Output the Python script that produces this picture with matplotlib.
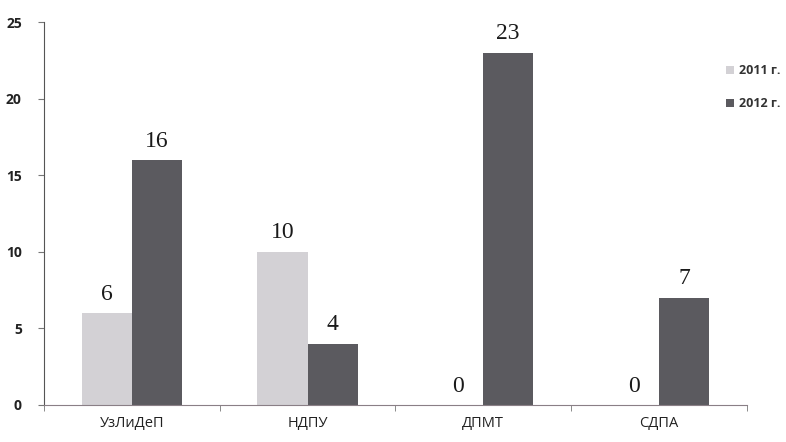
import matplotlib.pyplot as plt
import numpy as np

categories = ['УзЛиДеП', 'НДПУ', 'ДПМТ', 'СДПА']
series_names = ['2011 г.', '2012 г.']
values_2011 = [6, 10, 0, 0]
values_2012 = [16, 4, 23, 7]
colors = ['#d3d1d5', '#5b5a5f']

fig = plt.figure(figsize=(7.86, 4.42), dpi=100)
ax = fig.add_axes([0.056, 0.084, 0.894, 0.866])

x = np.arange(len(categories))
w = 0.285
b1 = ax.bar(x - w / 2, values_2011, w, color=colors[0], label=series_names[0])
b2 = ax.bar(x + w / 2, values_2012, w, color=colors[1], label=series_names[1])

for bars in (b1, b2):
    for r in bars:
        h = r.get_height()
        ax.annotate(f'{h:g}', (r.get_x() + r.get_width() / 2, h),
                    xytext=(0, 6), textcoords='offset points',
                    ha='center', va='bottom', fontsize=17,
                    family='Liberation Serif', color='#1a1a1a')

ax.set_xlim(-0.5, len(categories) - 0.5)
ax.set_ylim(0, 25)
ax.set_yticks([0, 5, 10, 15, 20, 25])
ax.set_xticks(x)
ax.set_xticklabels(categories, fontsize=10.5, family='Open Sans', color='#222222')
ax.set_xticks(np.arange(len(categories) + 1) - 0.5, minor=True)
ax.tick_params(axis='x', which='major', length=0, pad=8)
ax.tick_params(axis='x', which='minor', length=4, color='#777777')
ax.tick_params(axis='y', length=4, color='#777777', labelsize=10, pad=12)
for lab in ax.get_yticklabels():
    lab.set_fontweight('bold')
    lab.set_family('Open Sans')
    lab.set_color('#222222')

ax.spines['top'].set_visible(False)
ax.spines['right'].set_visible(False)
ax.spines['left'].set_linestyle((0, (1, 1)))
ax.spines['left'].set_color('#555555')
ax.spines['bottom'].set_color('#8a7f86')

leg = ax.legend(loc='upper left', bbox_to_anchor=(0.955, 0.92), frameon=False,
                handlelength=0.6, handleheight=0.6, handletextpad=0.4,
                labelspacing=1.6, prop={'family': 'Open Sans', 'size': 9, 'weight': 'bold'})
for t in leg.get_texts():
    t.set_color('#333333')

fig.savefig('out.png', dpi=100)
